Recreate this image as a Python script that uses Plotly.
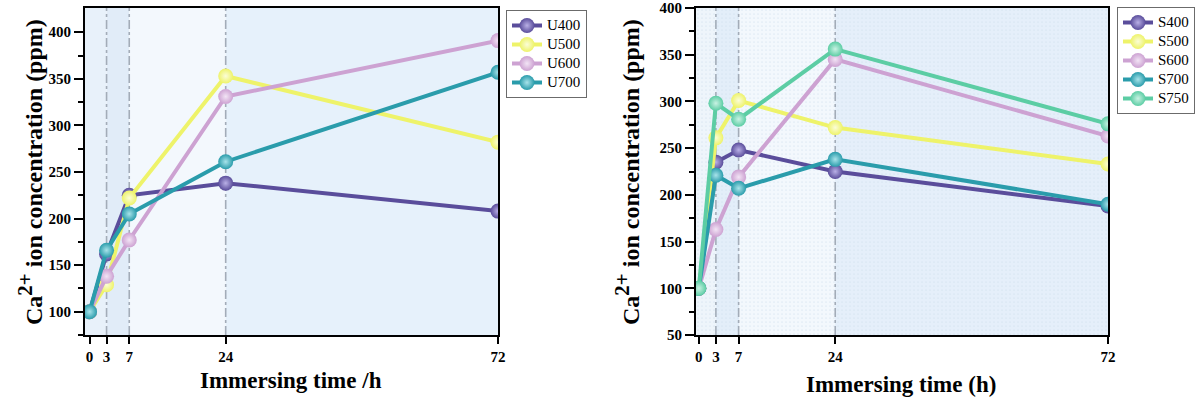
import plotly.graph_objects as go

# Sampling times (h) and axis ticks
time_h = [0, 3, 7, 24, 72]
time_ticks = [0, 3, 7, 24, 72]

# Ca2+ release, U series (ppm)
u_names = ["U400", "U500", "U600", "U700"]
u400 = [100, 162, 225, 238, 208]
u500 = [100, 129, 222, 353, 282]
u600 = [100, 138, 177, 331, 391]
u700 = [100, 166, 205, 261, 357]

# Ca2+ release, S series (ppm)
s_names = ["S400", "S500", "S600", "S700", "S750"]
s400 = [100, 235, 248, 225, 188]
s500 = [100, 261, 301, 272, 233]
s600 = [100, 163, 219, 345, 263]
s700 = [100, 221, 207, 238, 190]
s750 = [100, 298, 281, 356, 276]

u_ticks = [100, 150, 200, 250, 300, 350, 400]
s_ticks = [50, 100, 150, 200, 250, 300, 350, 400]

colors = {
    "400": ("#5a4d9b", "#b9b0e6"),
    "500": ("#eef36a", "#fbfdd8"),
    "600": ("#cda2d2", "#f2e4f5"),
    "700": ("#2a9cab", "#a8e3ea"),
    "750": ("#5ccda4", "#c9f2e3"),
}

FONT = "Liberation Serif"
U_RANGE_X = [-0.8, 72]
S_RANGE_X = [-0.5, 72]
U_RANGE_Y = [75, 426]
S_RANGE_Y = [50, 400]

fig = go.Figure()

# Background bands for the S panel, with a fine dot texture
s_band_colors = ["#eef5fb", "#e3eef9", "#f3f8fd", "#e5effa"]
band_edges_s = [S_RANGE_X[0]] + time_ticks[1:]
for i, c in enumerate(s_band_colors):
    x0, x1 = band_edges_s[i], band_edges_s[i + 1]
    fig.add_trace(go.Bar(
        x=[(x0 + x1) / 2], y=[S_RANGE_Y[1] - S_RANGE_Y[0]], base=[S_RANGE_Y[0]],
        width=[x1 - x0], xaxis="x2", yaxis="y2",
        marker=dict(color=c, line=dict(width=0),
                    pattern=dict(shape=".", fgcolor="#cbdcec", bgcolor=c,
                                 size=4, solidity=0.15)),
        showlegend=False, hoverinfo="skip"))

# Dash-dot guides at 3, 7 and 24 h
for t in time_ticks[1:-1]:
    fig.add_trace(go.Scatter(x=[t, t], y=S_RANGE_Y, mode="lines", xaxis="x2", yaxis="y2",
                             line=dict(color="#a3acb8", width=1.6, dash="dashdot"),
                             showlegend=False, hoverinfo="skip"))
    fig.add_trace(go.Scatter(x=[t, t], y=U_RANGE_Y, mode="lines", xaxis="x", yaxis="y",
                             line=dict(color="#a3acb8", width=1.6, dash="dashdot"),
                             showlegend=False, hoverinfo="skip"))

# Background bands for the U panel
u_band_colors = ["#e8f1fa", "#e1ecf8", "#f3f8fd", "#e6f1fb"]
band_edges_u = [U_RANGE_X[0]] + time_ticks[1:]
shapes = []
for i, c in enumerate(u_band_colors):
    shapes.append(dict(type="rect", xref="x", yref="y", x0=band_edges_u[i], x1=band_edges_u[i + 1],
                       y0=U_RANGE_Y[0], y1=U_RANGE_Y[1], fillcolor=c, line=dict(width=0),
                       layer="below"))


def add_series(name, values, key, xa, ya, legend):
    base, light = colors[key]
    fig.add_trace(go.Scatter(
        x=time_h, y=values, mode="lines+markers", xaxis=xa, yaxis=ya,
        name="<span style='font-size:15px'>%s</span>" % name,
        legend=legend,
        line=dict(color=base, width=4),
        marker=dict(size=15, color=base, line=dict(width=0),
                    gradient=dict(type="radial", color=light)),
    ))


for name, vals in zip(u_names, [u400, u500, u600, u700]):
    add_series(name, vals, name[1:], "x", "y", "legend")
for name, vals in zip(s_names, [s400, s500, s600, s700, s750]):
    add_series(name, vals, name[1:], "x2", "y2", "legend2")

tickfont = dict(family=FONT, size=15, color="black", weight="bold")
axis_common = dict(showline=True, linewidth=2, linecolor="black", mirror=True,
                   ticks="outside", tickwidth=2, tickcolor="black",
                   showgrid=False, zeroline=False, tickfont=tickfont)

legend_common = dict(font=dict(family=FONT, size=12, color="black"),
                     bgcolor="white", bordercolor="#6b6b6b", borderwidth=1,
                     tracegroupgap=0, itemwidth=30, xanchor="left", yanchor="top")

title_font = dict(family=FONT, size=24, color="black", weight="bold")
xtitle_font = dict(family=FONT, size=23, color="black", weight="bold")

minor_y = dict(tickvals=[75 + 50 * i for i in range(7)], ticks="outside",
               ticklen=5, tickwidth=1.5, tickcolor="black")

y_title = "Ca<sup><span style='font-size:21px'>2+</span></sup> ion concentration (ppm)"


def title_note(text, x_px, y_px, font, angle=0):
    return dict(text=text, xref="paper", yref="paper", x=x_px / 1198, y=1 - y_px / 400,
                xanchor="center", yanchor="middle", textangle=angle,
                showarrow=False, font=font)


fig.update_layout(
    width=1198, height=400,
    margin=dict(l=0, r=0, t=0, b=0, autoexpand=False),
    paper_bgcolor="white", plot_bgcolor="white",
    barmode="overlay", bargap=0,
    shapes=shapes,
    xaxis=dict(domain=[85 / 1198, 498 / 1198], range=U_RANGE_X, tickvals=time_ticks,
               ticklen=7, anchor="y", **axis_common),
    yaxis=dict(domain=[1 - 335 / 400, 1 - 8 / 400], range=U_RANGE_Y, tickvals=u_ticks,
               ticklen=9, minor=minor_y, anchor="x", **axis_common),
    xaxis2=dict(domain=[696 / 1198, 1108 / 1198], range=S_RANGE_X, tickvals=time_ticks,
                ticklen=7, anchor="y2", **axis_common),
    yaxis2=dict(domain=[1 - 335 / 400, 1 - 8 / 400], range=S_RANGE_Y, tickvals=s_ticks,
                ticklen=9, minor=minor_y, anchor="x2", **axis_common),
    legend=dict(x=506 / 1198, y=1 - 10 / 400, **legend_common),
    legend2=dict(x=1117 / 1198, y=1 - 7 / 400, **legend_common),
    annotations=[
        title_note(y_title, 30, 172, title_font, -90),
        title_note(y_title, 627, 172, title_font, -90),
        title_note("Immersing time /h", 291, 380, xtitle_font),
        title_note("Immersing time (h)", 901, 384, xtitle_font),
    ],
)

fig.write_html("out.html")
